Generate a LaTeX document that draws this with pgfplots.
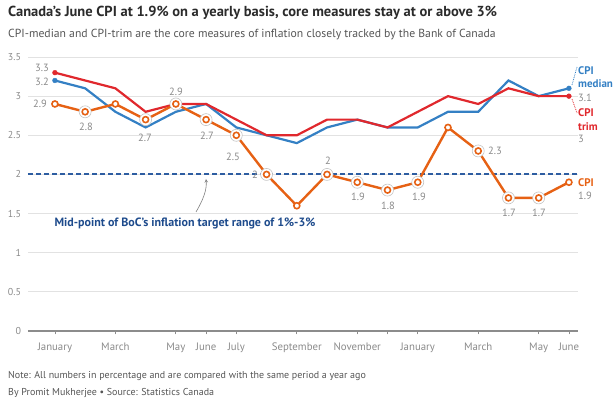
\documentclass[border=0pt]{standalone}
\usepackage{pgfplots}
\pgfplotsset{compat=1.18}
\usepackage{fontspec}
\setmainfont{PT Sans}
\definecolor{cpi}{HTML}{E66114}
\definecolor{med}{HTML}{3480C4}
\definecolor{trimc}{HTML}{E0282D}
\definecolor{navy}{HTML}{1E4B8C}
\definecolor{dashblue}{HTML}{2D5DA1}
\definecolor{titlec}{HTML}{2B2B2B}
\definecolor{subc}{HTML}{555555}
\definecolor{labelgray}{HTML}{8A8A8A}
\definecolor{axisgray}{HTML}{8C8C8C}
\definecolor{gridgray}{HTML}{E2E2E2}
\definecolor{halo}{HTML}{C4C4C4}
\begin{document}
\begin{tikzpicture}[x=1pt,y=1pt]
\useasboundingbox (0,0) rectangle (616,398);
\begin{axis}[
  at={(28pt,67pt)}, anchor=south west, scale only axis,
  width=550pt, height=274pt,
  xmin=-0.89, xmax=17.3, ymin=0, ymax=3.5,
  axis x line*=bottom, axis y line*=left,
  x axis line style={draw=axisgray, line width=1.1pt, -},
  y axis line style={draw=none},
  ytick={0,0.5,1,1.5,2,2.5,3,3.5},
  ymajorgrids, grid style={gridgray, line width=0.8pt},
  ytick style={draw=none},
  yticklabel style={font=\fontsize{10}{10}\selectfont, text=labelgray},
  /pgf/number format/assume math mode=true,
  xtick={0,2,4,5,6,8,10,11,12,14,16,17},
  xticklabels={January,March,May,June,July,September,November,,January,March,May,June},
  xtick style={draw=axisgray, line width=0.8pt},
  tick align=outside, major tick length=3.5pt,
  xticklabel style={font=\fontsize{10.8}{10.8}\selectfont, text=labelgray, yshift=-5pt},
  clip=false,
]
\addplot[dashblue, line width=2.1pt, dash pattern=on 5pt off 3pt] coordinates {(-0.89,2) (17.3,2)};
\addplot[med, line width=2.2pt] coordinates {
(0,3.2) (1,3.1) (2,2.8) (3,2.6) (4,2.8) (5,2.9) (6,2.6) (7,2.5) (8,2.4) (9,2.6) (10,2.7) (11,2.6) (12,2.6) (13,2.8) (14,2.8) (15,3.2) (16,3.0) (17,3.1)};
\addplot[only marks, mark=*, mark size=2.4pt, med] coordinates {(0,3.2) (17,3.1)};
\addplot[trimc, line width=2.2pt] coordinates {
(0,3.3) (1,3.2) (2,3.1) (3,2.8) (4,2.9) (5,2.9) (6,2.7) (7,2.5) (8,2.5) (9,2.7) (10,2.7) (11,2.6) (12,2.8) (13,3.0) (14,2.9) (15,3.1) (16,3.0) (17,3.0)};
\addplot[only marks, mark=*, mark size=2.4pt, trimc] coordinates {(0,3.3) (17,3.0)};
\addplot[only marks, mark=*, mark size=6pt, mark options={draw=halo, fill=white, line width=0.6pt}] coordinates {
(1,2.8) (3,2.7) (4,2.9) (5,2.7) (6,2.5) (7,2.0) (9,2.0) (10,1.9) (11,1.8) (12,1.9) (14,2.3) (15,1.7) (16,1.7)};
\addplot[cpi, line width=2.4pt, mark=*, mark size=3pt, mark options={fill=white, draw=cpi, line width=1.6pt}] coordinates {
(0,2.9) (1,2.8) (2,2.9) (3,2.7) (4,2.9) (5,2.7) (6,2.5) (7,2.0) (8,1.6) (9,2.0) (10,1.9) (11,1.8) (12,1.9) (13,2.6) (14,2.3) (15,1.7) (16,1.7) (17,1.9)};
\end{axis}
\begin{scope}[yshift=398pt, y=-1pt]
\node[anchor=base west, inner sep=0, font=\bfseries\fontsize{14.5}{14.5}\selectfont, text=titlec] at (8,17) {Canada's June CPI at 1.9\% on a yearly basis, core measures stay at or above 3\%};
\node[anchor=base west, inner sep=0, font=\fontsize{11.7}{11.7}\selectfont, text=subc] at (8,37.5) {CPI-median and CPI-trim are the core measures of inflation closely tracked by the Bank of Canada};
\begin{scope}[every node/.style={font=\fontsize{10.5}{10.5}\selectfont, text=labelgray, inner sep=0}]
\node at (42,68) {3.3};
\node at (42,82) {3.2};
\node at (40,104) {2.9};
\node at (86,127) {2.8};
\node at (145,138) {2.7};
\node at (176,92) {2.9};
\node at (207,136) {2.7};
\node at (233,157) {2.5};
\node at (255,175) {2};
\node at (328,161) {2};
\node at (358,197) {1.9};
\node at (388,206) {1.8};
\node at (419,197) {1.9};
\node at (495,151) {2.3};
\node at (509,213) {1.7};
\node at (539,213) {1.7};
\node[anchor=west] at (578,98) {3.1};
\node[anchor=west] at (578,139) {3};
\node[anchor=west] at (578,196) {1.9};
\end{scope}
\begin{scope}[every node/.style={font=\bfseries\fontsize{11}{11}\selectfont, inner sep=0, anchor=west}]
\node[text=med] at (578,71) {CPI};
\node[text=med] at (578,84) {median};
\node[text=trimc] at (578,113) {CPI};
\node[text=trimc] at (578,127) {trim};
\node[text=cpi] at (578,183) {CPI};
\end{scope}
\draw[med, densely dotted, line width=0.8pt] (572,85) -- (577,67);
\draw[trimc, densely dotted, line width=0.8pt] (572,99) -- (577,113);
\node[font=\bfseries\fontsize{12}{12}\selectfont, text=navy, inner sep=0] at (185,223) {Mid-point of BoC's inflation target range of 1\%-3\%};
\draw[->, >=stealth, gray, line width=0.6pt] (196,212) .. controls (203,200) and (207,190) .. (206,179);
\node[anchor=base west, inner sep=0, font=\fontsize{10}{10}\selectfont, text=subc] at (8,379) {Note: All numbers in percentage and are compared with the same period a year ago};
\node[anchor=base west, inner sep=0, font=\fontsize{10}{10}\selectfont, text=subc] at (8,396) {By Promit Mukherjee \textbullet{} Source: Statistics Canada};
\end{scope}
\end{tikzpicture}
\end{document}
